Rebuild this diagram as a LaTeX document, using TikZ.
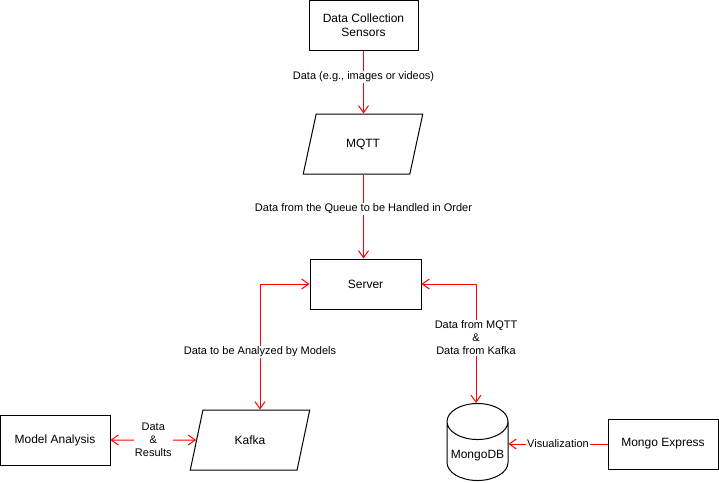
\documentclass[tikz,border=0pt]{standalone}
\usepackage{fontspec}
\setmainfont{Liberation Sans}
\usetikzlibrary{arrows.meta,shapes.geometric}

\begin{document}
\begin{tikzpicture}[x=1pt,y=-1pt,semithick]
        \tikzstyle{blocknode}=[
            rectangle,
            draw=black,
            line width=1pt,
            fill=white,
            text=black,
            align=center,
            font=\fontsize{12}{14}\selectfont
        ]
        \tikzstyle{queuenode}=[
            trapezium,
            trapezium left angle=72,
            trapezium right angle=108,
            trapezium stretches=true,
            draw=black,
            line width=1pt,
            fill=white,
            minimum width=120pt,
            minimum height=60pt,
            font=\fontsize{12}{14}\selectfont
        ]
        \tikzstyle{dbnode}=[
            cylinder,
            shape border rotate=90,
            shape aspect=0.6,
            draw=black,
            line width=1pt,
            fill=white,
            minimum width=61pt,
            minimum height=77pt,
            font=\fontsize{12}{14}\selectfont
        ]
        \tikzstyle{flow}=[
            draw=red,
            line width=1pt,
            arrows={-Straight Barb[length=7pt,width=10pt]}
        ]
        \tikzstyle{twoway}=[
            flow,
            arrows={Straight Barb[length=7pt,width=10pt]-Straight Barb[length=7pt,width=10pt]}
        ]
        \tikzstyle{flowlabel}=[
            fill=white,
            inner sep=1pt,
            align=center,
            text=black,
            font=\fontsize{11}{13}\selectfont
        ]

        \useasboundingbox (0,0) rectangle (719,482);

        \node[blocknode, minimum width=109pt, minimum height=50pt] (D) at (363.5,25){Data Collection\\Sensors};
        \node[queuenode] (M) at (363,144){MQTT};
        \node[blocknode, minimum width=111pt, minimum height=50pt] (S) at (365.5,284){Server};
        \node[queuenode] (K) at (250,440){Kafka};
        \node[blocknode, minimum width=110pt, minimum height=50pt] (A) at (55,440){Model Analysis};
        \node[dbnode, anchor=north] (G) at (477.5,403){MongoDB};
        \node[blocknode, minimum width=110pt, minimum height=50pt] (E) at (663,444){Mongo Express};

        \draw[flow] (D.south) -- node[flowlabel, pos=0.42]{Data (e.g., images or videos)} (D.south |- M.north);
        \draw[flow] (M.south -| D.south) -- node[flowlabel, pos=0.41]{Data from the Queue to be Handled in Order} (D.south |- S.north);
        \draw[twoway] (S.west) -| node[flowlabel, pos=0.77]{Data to be Analyzed by Models} (K.top side -| 260,0);
        \draw[twoway] (S.east) -| node[flowlabel, pos=0.727]{Data from MQTT\\\&\\Data from Kafka} (G.north -| 476,0);
        \draw[twoway] (A) -- node[flowlabel]{Data\\\&\\Results} (K);
        \draw[flow] (E.west) -- node[flowlabel]{Visualization} (E.west -| G.east);

    \end{tikzpicture}
\end{document}
